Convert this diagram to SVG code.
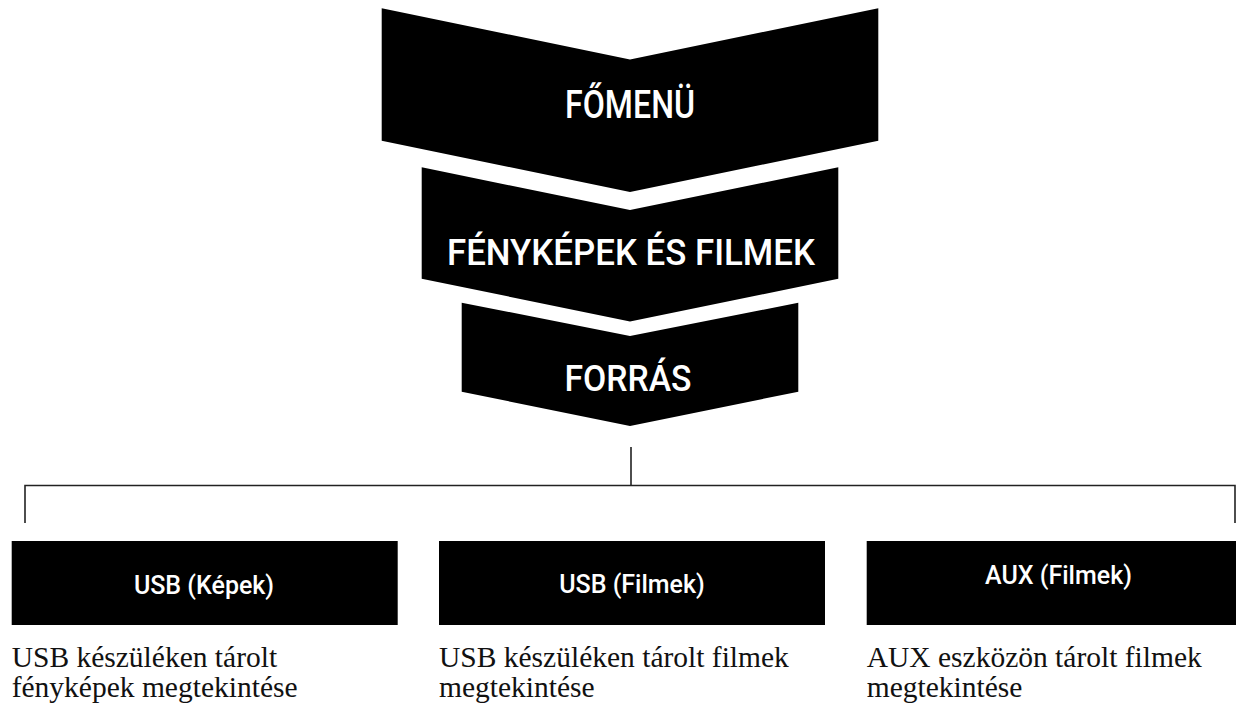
<svg xmlns="http://www.w3.org/2000/svg" width="1236" height="710" viewBox="0 0 1236 710">
<style>
.chev{fill:#000}
.box{fill:#000}
.ht{font-family:Roboto,"Liberation Sans",sans-serif;font-weight:500;fill:#fff;text-anchor:middle}
.bt{font-family:Roboto,"Liberation Sans",sans-serif;font-weight:500;font-size:25px;fill:#fff;text-anchor:middle}
.desc{font-family:"Liberation Serif",serif;font-size:29.5px;fill:#111}
.conn{stroke:#222;stroke-width:1.6;fill:none}
</style>
<rect width="1236" height="710" fill="#fff"/>
<g id="fomenu">
<polygon class="chev" points="381.7,8.3 630,59.5 878.3,8.3 878.3,140.7 630,192 381.7,140.7"/>
<text class="ht" x="630" y="118" font-size="39" textLength="130" lengthAdjust="spacingAndGlyphs">FŐMENÜ</text>
</g>
<g id="fenykepek">
<polygon class="chev" points="421.7,167.3 630,210 838.3,167.3 838.3,278.7 630,321.5 421.7,278.7"/>
<text class="ht" x="631" y="265" font-size="37" textLength="368" lengthAdjust="spacingAndGlyphs">FÉNYKÉPEK ÉS FILMEK</text>
</g>
<g id="forras">
<polygon class="chev" points="461.7,302.7 630,336 798.3,302.7 798.3,391.7 630,426 461.7,391.7"/>
<text class="ht" x="628" y="391" font-size="36" textLength="127" lengthAdjust="spacingAndGlyphs">FORRÁS</text>
</g>
<g id="connectors">
<path class="conn" d="M631,447 V485.5 M25,523 V485.5 H1235 V523"/>
</g>
<g id="usb-kepek">
<rect class="box" x="11.7" y="541" width="386" height="84"/>
<text class="bt" x="204" y="594">USB (Képek)</text>
<text class="desc" x="11.7" y="666.7">USB készüléken tárolt</text>
<text class="desc" x="11.7" y="696.7">fényképek megtekintése</text>
</g>
<g id="usb-filmek">
<rect class="box" x="439" y="541" width="386" height="84"/>
<text class="bt" x="632" y="593">USB (Filmek)</text>
<text class="desc" x="439" y="666.7">USB készüléken tárolt filmek</text>
<text class="desc" x="439" y="696.7">megtekintése</text>
</g>
<g id="aux-filmek">
<rect class="box" x="866.7" y="541" width="386" height="84"/>
<text class="bt" x="1058.5" y="584">AUX (Filmek)</text>
<text class="desc" x="866.7" y="666.7">AUX eszközön tárolt filmek</text>
<text class="desc" x="866.7" y="696.7">megtekintése</text>
</g>
</svg>
